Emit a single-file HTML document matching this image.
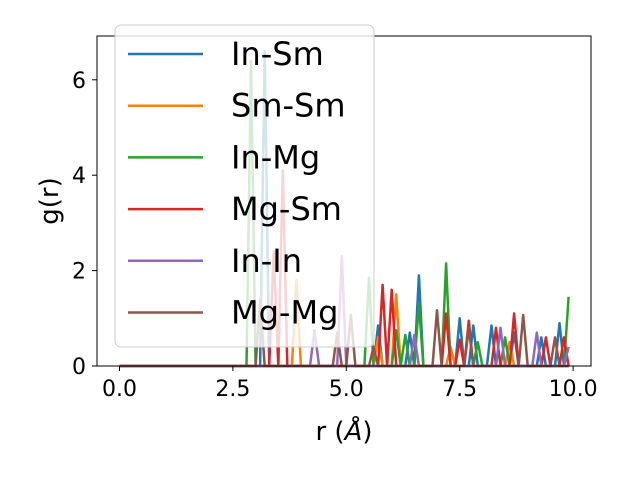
<!DOCTYPE html>
<html><head><meta charset="utf-8"><style>
body{margin:0;background:#fff;width:640px;height:480px;overflow:hidden;font-family:"Liberation Sans","DejaVu Sans",sans-serif}
</style></head><body>
<svg id="chart" width="640" height="480" xmlns="http://www.w3.org/2000/svg" font-family="'DejaVu Sans','Liberation Sans',sans-serif">
<rect x="97" y="36" width="494" height="330" fill="#fff"/>
<g id="series"></g>
<rect x="97" y="36" width="494" height="330" fill="none" stroke="#000" stroke-width="1"/>
<g id="xticks"></g>
<g id="yticks"></g>
<text x="344" y="440" font-size="26" text-anchor="middle">r (<tspan font-style="italic">Å</tspan>)</text>
<text transform="translate(58,201) rotate(-90)" font-size="26" text-anchor="middle">g(r)</text>
<g id="legend">
<rect x="115" y="25" width="259" height="322" rx="6" fill="rgba(255,255,255,0.8)" stroke="#ccc" stroke-width="1"/>
</g>
</svg>
<script>
const seriesNames=["In-Sm","Sm-Sm","In-Mg","Mg-Sm","In-In","Mg-Mg"];
const seriesColors=["#1f77b4","#ff7f0e","#2ca02c","#d62728","#9467bd","#8c564b"];
const inSmR=[3.2,5.7,6.4,6.6,7.5,7.8,8.2,8.7,9.3,9.7];
const inSmG=[6.6,0.85,0.7,1.9,1.0,0.85,0.85,0.7,0.6,0.9];
const smSmR=[3.9,5.7,6.1,7.3,8.6];
const smSmG=[1.8,0.6,1.5,0.4,0.5];
const inMgR=[2.9,5.5,6.1,6.3,6.6,7.2,7.9,8.5,9.9];
const inMgG=[6.4,1.85,0.75,0.65,1.3,2.15,0.5,0.6,1.45];
const mgSmR=[3.4,3.6,5.8,6.0,7.2,7.5,7.7,8.3,8.7,9.4,9.8];
const mgSmG=[2.4,4.1,1.7,1.6,1.1,0.55,0.95,0.8,1.1,0.6,0.6];
const inInR=[4.3,4.9,6.5,8.4,9.2,9.9];
const inInG=[0.75,2.3,0.65,0.8,0.7,0.4];
const mgMgR=[3.1,4.8,5.1,5.6,7.0,7.7,8.9,9.6];
const mgMgG=[1.4,0.7,1.07,0.4,1.17,0.8,1.07,0.6];
const peakR=[inSmR,smSmR,inMgR,mgSmR,inInR,mgMgR];
const peakG=[inSmG,smSmG,inMgG,mgSmG,inInG,mgMgG];
const xTickLabels=["0.0","2.5","5.0","7.5","10.0"];
const yTickLabels=["0","2","4","6"];

const NS="http://www.w3.org/2000/svg";
const xS=v=>119.5+v*45.36;
const yS=v=>366-v*47.7;
function mk(tag,attrs,parent){const e=document.createElementNS(NS,tag);for(const k in attrs)e.setAttribute(k,attrs[k]);parent.appendChild(e);return e;}
const sg=document.getElementById("series");
for(let s=0;s<6;s++){
  const vals=[];for(let i=0;i<=99;i++)vals.push(0);
  peakR[s].forEach((r,j)=>{vals[Math.round(r*10)]=peakG[s][j];});
  let d="";vals.forEach((v,i)=>{d+=(i?"L":"M")+xS(i/10).toFixed(1)+","+yS(v).toFixed(1);});
  const p=mk("path",{d:d,fill:"none",stroke:seriesColors[s],"stroke-width":2.5,"stroke-linejoin":"round"},sg);
  
  
}
const xg=document.getElementById("xticks");
xTickLabels.forEach(l=>{const x=xS(parseFloat(l));
  const t=mk("line",{x1:x,x2:x,y1:366,y2:371,stroke:"#000"},xg);
  
  
  const tx=mk("text",{x:x,y:396,"font-size":22,"text-anchor":"middle"},xg);tx.textContent=l;
  
  
});
const yg=document.getElementById("yticks");
yTickLabels.forEach(l=>{const y=yS(parseFloat(l));
  const t=mk("line",{x1:92,x2:97,y1:y,y2:y,stroke:"#000"},yg);
  
  
  const tx=mk("text",{x:86,y:y+8,"font-size":22,"text-anchor":"end"},yg);tx.textContent=l;
  
  
});
const lg=document.getElementById("legend");
seriesNames.forEach((n,i)=>{const y=54+i*51.7;
  const l=mk("line",{x1:128,x2:203,y1:y,y2:y,stroke:seriesColors[i],"stroke-width":2.5},lg);
  
  
  const t=mk("text",{x:231,y:y+11,"font-size":32},lg);t.textContent=n;
  
  
});
</script>
</body></html>
